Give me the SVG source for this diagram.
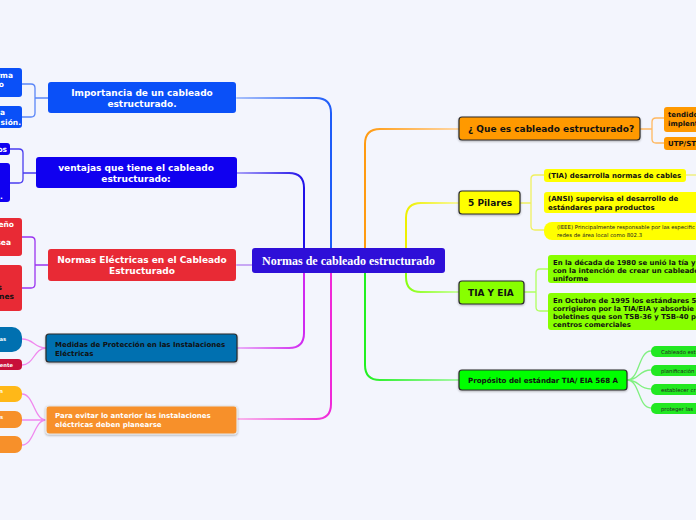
<svg xmlns="http://www.w3.org/2000/svg" width="696" height="520" viewBox="0 0 696 520">
<defs>
<style>
.t{font-family:"DejaVu Sans","Verdana",sans-serif;font-weight:bold}
.w{fill:#ffffff}
.k{fill:#111111}
.n{font-family:"DejaVu Sans","Verdana",sans-serif;font-weight:normal;fill:#222222}
.c{fill:none;stroke-width:2;stroke-linecap:round}
.s{fill:none;stroke-width:1.3;stroke-linecap:round}
.bd{stroke:#2a2a2a;stroke-width:1.2}
</style>
<filter id="sh" x="-10%" y="-20%" width="120%" height="150%">
<feDropShadow dx="0" dy="1" stdDeviation="0.8" flood-color="#000" flood-opacity="0.3"/>
</filter>
<linearGradient id="gImp" gradientUnits="userSpaceOnUse" x1="237" y1="0" x2="331" y2="0"><stop offset="0" stop-color="#a8c0fb"/><stop offset="1" stop-color="#1e5cf8"/></linearGradient>
<linearGradient id="gVen" gradientUnits="userSpaceOnUse" x1="237" y1="0" x2="304" y2="0"><stop offset="0" stop-color="#a8a0f8"/><stop offset="1" stop-color="#2010e8"/></linearGradient>
<linearGradient id="gMed" gradientUnits="userSpaceOnUse" x1="237" y1="0" x2="304" y2="0"><stop offset="0" stop-color="#eab0f8"/><stop offset="1" stop-color="#d028f0"/></linearGradient>
<linearGradient id="gPar" gradientUnits="userSpaceOnUse" x1="237" y1="0" x2="331" y2="0"><stop offset="0" stop-color="#f8b8ec"/><stop offset="1" stop-color="#f028d8"/></linearGradient>
<linearGradient id="gQue" gradientUnits="userSpaceOnUse" x1="459" y1="0" x2="365" y2="0"><stop offset="0" stop-color="#ffd8a8"/><stop offset="1" stop-color="#ff9a10"/></linearGradient>
<linearGradient id="gPil" gradientUnits="userSpaceOnUse" x1="459" y1="0" x2="406" y2="0"><stop offset="0" stop-color="#f8f8a0"/><stop offset="1" stop-color="#eef000"/></linearGradient>
<linearGradient id="gTia" gradientUnits="userSpaceOnUse" x1="459" y1="0" x2="406" y2="0"><stop offset="0" stop-color="#c8ffa0"/><stop offset="1" stop-color="#88ff10"/></linearGradient>
<linearGradient id="gPro" gradientUnits="userSpaceOnUse" x1="459" y1="0" x2="365" y2="0"><stop offset="0" stop-color="#a8f8a8"/><stop offset="1" stop-color="#20f020"/></linearGradient>
</defs>
<rect width="696" height="520" fill="#f3f5fd"/>

<g id="connectors">
<path class="c" stroke="url(#gImp)" d="M237 98 H316 Q331 98 331 113 V248"/>
<path class="c" stroke="url(#gVen)" d="M237 173 H289 Q304 173 304 188 V248"/>
<path class="c" stroke="#c8a8f4" d="M237 265 H252"/>
<path class="c" stroke="url(#gMed)" d="M237 348 H289 Q304 348 304 333 V273"/>
<path class="c" stroke="url(#gPar)" d="M237 419 H316 Q331 419 331 404 V273"/>
<path class="c" stroke="url(#gQue)" d="M459 129 H380 Q365 129 365 144 V248"/>
<path class="c" stroke="url(#gPil)" d="M459 203 H421 Q406 203 406 218 V248"/>
<path class="c" stroke="url(#gTia)" d="M459 292 H421 Q406 292 406 277 V273"/>
<path class="c" stroke="url(#gPro)" d="M459 380 H380 Q365 380 365 365 V273"/>
<path class="s" stroke="#5a86f8" d="M48 98 H35 M22 84 H31 Q35 84 35 88 V113 Q35 117 31 117 H22"/>
<path class="s" stroke="#4a3cf0" d="M36 173 H23 M10 149 H19 Q23 149 23 153 V179 Q23 183 19 183 H10"/>
<path class="s" stroke="#9a34f0" d="M48 265 H35 M22 237 H31 Q35 237 35 241 V284 Q35 288 31 288 H22"/>
<path class="s" stroke="#f088ee" d="M46 348 C34 348 34 339 22 339 M46 348 C34 348 34 365 22 365"/>
<path class="s" stroke="#f088ee" d="M46 420 C34 420 34 394 22 394 M46 420 H22 M46 420 C34 420 34 445 22 445"/>
<path class="s" stroke="#ffb860" d="M640 129 H652 M664 118 H656 Q652 118 652 122 V139 Q652 143 656 143 H664"/>
<path class="s" stroke="#f0f060" d="M520 203 H531 M544 175 H535 Q531 175 531 179 V226 Q531 230 535 230 H544"/>
<path class="s" stroke="#f0f080" d="M686 175 H696"/>
<path class="s" stroke="#b0ff60" d="M524 292 H536 M548 269 H540 Q536 269 536 273 V307 Q536 311 540 311 H548"/>
<path class="s" stroke="#80f080" d="M627 380 C640 380 638 351 651 351 M627 380 C640 380 638 370 651 370 M627 380 C640 380 638 389 651 389 M627 380 C640 380 638 408 651 408"/>
</g>

<g id="center">
<rect x="252" y="248" width="193" height="25" rx="3" fill="#2e0fd8"/>
<text x="348.5" y="265" text-anchor="middle" font-family="Liberation Serif,serif" font-weight="bold" font-size="12" fill="#fff">Normas de cableado estructurado</text>
</g>

<g id="importancia">
<rect x="48" y="82" width="188" height="31" rx="3" fill="#0a50f8"/>
<text class="t w" font-size="9" text-anchor="middle"><tspan x="142" y="96">Importancia de un cableado</tspan><tspan x="142" y="107">estructurado.</tspan></text>
</g>
<g id="imp-c1"><rect x="-10" y="68" width="32" height="29" rx="3" fill="#0a50f8"/><text class="t w" font-size="7.5" text-anchor="end"><tspan x="13" y="78">rma</tspan><tspan x="4" y="87">o</tspan></text></g>
<g id="imp-c2"><rect x="-10" y="106" width="32" height="22" rx="3" fill="#0a50f8"/><text class="t w" font-size="7.5" text-anchor="end"><tspan x="5" y="115">a</tspan><tspan x="21" y="125">sión.</tspan></text></g>

<g id="ventajas">
<rect x="36" y="157" width="201" height="31" rx="3" fill="#1000f0"/>
<text class="t w" font-size="9" text-anchor="middle"><tspan x="136" y="171">ventajas que tiene el cableado</tspan><tspan x="136" y="182">estructurado:</tspan></text>
</g>
<g id="ven-c1"><rect x="-10" y="143" width="20" height="12" rx="3" fill="#1000f0"/><text class="t w" font-size="7.5" text-anchor="end" x="7" y="152">os</text></g>
<g id="ven-c2"><rect x="-10" y="163" width="20" height="39" rx="3" fill="#1000f0"/><text class="t w" font-size="7.5" x="0" y="199">.</text></g>

<g id="normas-electricas">
<rect x="48" y="249" width="188" height="32" rx="3" fill="#e82a35"/>
<text class="t w" font-size="9" text-anchor="middle"><tspan x="142" y="263">Normas Eléctricas en el Cableado</tspan><tspan x="142" y="274">Estructurado</tspan></text>
</g>
<g id="ne-c1"><rect x="-10" y="218" width="32" height="38" rx="3" fill="#e82a35"/><text class="t w" font-size="7.5" text-anchor="end"><tspan x="14" y="227">eño</tspan><tspan x="11" y="245">sea</tspan></text></g>
<g id="ne-c2"><rect x="-10" y="265" width="32" height="46" rx="3" fill="#e82a35"/><text class="t" font-size="7.5" text-anchor="end" fill="#111"><tspan x="2" y="290">s</tspan><tspan x="14" y="299">nes</tspan></text></g>

<g id="medidas">
<rect x="46" y="334" width="191" height="28" rx="3" fill="#0070b0" class="bd" filter="url(#sh)"/>
<text class="t k" font-size="7"><tspan x="55" y="347">Medidas de Protección en las Instalaciones</tspan><tspan x="55" y="355.5">Eléctricas</tspan></text>
</g>
<g id="med-c1"><rect x="-20" y="327" width="42" height="25" rx="10" fill="#0070b0"/><text class="t w" font-size="5.2" text-anchor="end" x="6" y="341">as</text></g>
<g id="med-c2"><rect x="-20" y="359" width="42" height="11" rx="4" fill="#c8103a"/><text class="t w" font-size="5.2" text-anchor="end" x="13" y="367">iente</text></g>

<g id="para-evitar">
<rect x="46" y="406" width="191" height="28" rx="3" fill="#f7902a" stroke="#e6e6e6" stroke-width="1.2" filter="url(#sh)"/>
<text class="t w" font-size="7"><tspan x="55" y="418">Para evitar lo anterior las instalaciones</tspan><tspan x="55" y="427">eléctricas deben planearse</tspan></text>
</g>
<g id="pe-c1"><rect x="-20" y="386" width="42" height="16" rx="7" fill="#ffb818"/><text class="t w" font-size="5.2" text-anchor="end" x="3" y="393">n</text></g>
<g id="pe-c2"><rect x="-20" y="411" width="42" height="17" rx="7" fill="#f7902a"/><text class="t w" font-size="5.2" text-anchor="end" x="3" y="419">s</text></g>
<g id="pe-c3"><rect x="-20" y="436" width="42" height="17" rx="7" fill="#f7902a"/></g>

<g id="que-es">
<rect x="459" y="117" width="181" height="23" rx="3" fill="#ff9900" class="bd" filter="url(#sh)"/>
<text class="t k" font-size="9" x="468" y="132">¿ Que es cableado estructurado?</text>
</g>
<g id="que-c1"><rect x="664" y="107" width="50" height="25" rx="3" fill="#ff9900"/><text class="t k" font-size="7"><tspan x="668" y="117">tendido</tspan><tspan x="668" y="126">implent</tspan></text></g>
<g id="que-c2"><rect x="664" y="137" width="50" height="13" rx="3" fill="#ff9900"/><text class="t k" font-size="7" x="668" y="146">UTP/ST</text></g>

<g id="pilares">
<rect x="459" y="191" width="61" height="23" rx="3" fill="#ffff00" class="bd" filter="url(#sh)"/>
<text class="t k" font-size="9" x="468" y="206">5 Pilares</text>
</g>
<g id="pil-c1"><rect x="544" y="169" width="142" height="13" rx="3" fill="#ffff00"/><text class="t k" font-size="7" x="548" y="178">(TIA) desarrolla normas de cables</text></g>
<g id="pil-c2"><rect x="544" y="192" width="160" height="21" rx="3" fill="#ffff00"/><text class="t k" font-size="7"><tspan x="548" y="201">(ANSI) supervisa el desarrollo de</tspan><tspan x="548" y="210">estándares para productos</tspan></text></g>
<g id="pil-c3"><rect x="544" y="222" width="170" height="18" rx="8" fill="#ffff00"/><text class="n" font-size="5.4"><tspan x="557" y="229">(IEEE) Principalmente responsable por las especific</tspan><tspan x="557" y="236.5">redes de área local como 802.3</tspan></text></g>

<g id="tia-eia">
<rect x="459" y="281" width="65" height="23" rx="3" fill="#88ff00" class="bd" filter="url(#sh)"/>
<text class="t k" font-size="9" x="468" y="296">TIA Y EIA</text>
</g>
<g id="tia-c1"><rect x="548" y="255" width="160" height="28" rx="3" fill="#88ff00"/><text class="t k" font-size="6.9"><tspan x="553" y="265">En la década de 1980 se unió la tía y</tspan><tspan x="553" y="273">con la intención de crear un cableado</tspan><tspan x="553" y="281">uniforme</tspan></text></g>
<g id="tia-c2"><rect x="548" y="293" width="160" height="37" rx="3" fill="#88ff00"/><text class="t k" font-size="6.9"><tspan x="553" y="303">En Octubre de 1995 los estándares 5</tspan><tspan x="553" y="311">corrigieron por la TIA/EIA y absorbie</tspan><tspan x="553" y="319">boletines que son TSB-36 y TSB-40 p</tspan><tspan x="553" y="327">centros comerciales</tspan></text></g>

<g id="proposito">
<rect x="459" y="370" width="168" height="20" rx="3" fill="#00ff00" class="bd" filter="url(#sh)"/>
<text class="t k" font-size="7.1" x="468" y="383">Propósito del estándar TIA/ EIA 568 A</text>
</g>
<g id="pro-c1"><rect x="651" y="346" width="60" height="11" rx="5" fill="#22e822"/><text class="n" font-size="5.3" x="661" y="353.5">Cableado est</text></g>
<g id="pro-c2"><rect x="651" y="365" width="60" height="11" rx="5" fill="#22e822"/><text class="n" font-size="5.3" x="661" y="372.5">planificación</text></g>
<g id="pro-c3"><rect x="651" y="384" width="60" height="11" rx="5" fill="#22e822"/><text class="n" font-size="5.3" x="661" y="391.5">establecer cr</text></g>
<g id="pro-c4"><rect x="651" y="403" width="60" height="11" rx="5" fill="#22e822"/><text class="n" font-size="5.3" x="661" y="410.5">proteger las</text></g>
</svg>
